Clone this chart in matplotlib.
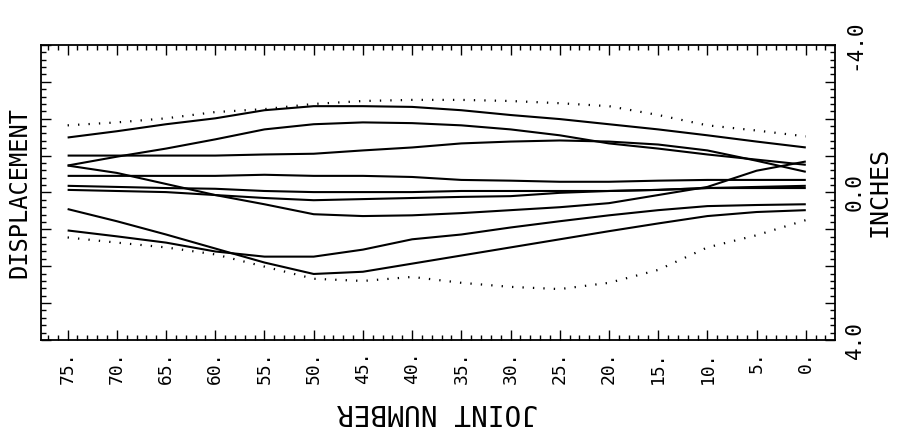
import numpy as np
import matplotlib.pyplot as plt
from matplotlib.ticker import MultipleLocator, FuncFormatter

# joint numbers (x) and displacement in inches (y, positive = down on the plot)
joints = [75, 70, 65, 60, 55, 50, 45, 40, 35, 30, 25, 20, 15, 10, 5, 0]

upper_env = [-1.82, -1.90, -2.01, -2.18, -2.26, -2.40, -2.48, -2.51, -2.51, -2.48, -2.42, -2.34, -2.10, -1.82, -1.68, -1.52]
lower_env = [1.22, 1.36, 1.49, 1.68, 2.01, 2.34, 2.40, 2.29, 2.45, 2.56, 2.62, 2.45, 2.10, 1.49, 1.16, 0.75]

line_a = [-1.49, -1.66, -1.85, -2.01, -2.23, -2.34, -2.34, -2.32, -2.23, -2.10, -1.99, -1.85, -1.71, -1.55, -1.38, -1.22]
line_b = [-0.73, -0.97, -1.19, -1.44, -1.71, -1.85, -1.90, -1.88, -1.82, -1.71, -1.55, -1.33, -1.19, -1.03, -0.89, -0.75]
line_c = [-1.00, -1.00, -1.00, -1.00, -1.03, -1.05, -1.14, -1.22, -1.33, -1.38, -1.41, -1.38, -1.30, -1.14, -0.86, -0.56]
line_d = [-0.73, -0.53, -0.23, 0.07, 0.32, 0.59, 0.64, 0.62, 0.56, 0.48, 0.40, 0.29, 0.07, -0.15, -0.59, -0.84]
line_e = [-0.45, -0.45, -0.45, -0.45, -0.48, -0.45, -0.45, -0.42, -0.34, -0.32, -0.29, -0.29, -0.32, -0.34, -0.34, -0.34]
line_f = [-0.18, -0.15, -0.12, -0.10, -0.04, -0.01, -0.01, -0.01, -0.04, -0.04, -0.04, -0.04, -0.07, -0.12, -0.12, -0.12]
line_g = [-0.07, -0.04, -0.01, 0.07, 0.15, 0.21, 0.18, 0.15, 0.12, 0.10, 0.01, -0.04, -0.07, -0.12, -0.15, -0.18]
line_h = [0.45, 0.78, 1.14, 1.52, 1.90, 2.21, 2.15, 1.93, 1.71, 1.49, 1.27, 1.05, 0.84, 0.64, 0.53, 0.48]
line_i = [1.03, 1.19, 1.36, 1.60, 1.74, 1.74, 1.55, 1.27, 1.14, 0.95, 0.78, 0.62, 0.48, 0.37, 0.34, 0.32]

solid_lines = [line_a, line_b, line_c, line_d, line_e, line_f, line_g, line_h, line_i]

ytick_vals = [-4.0, 0.0, 4.0]

mono = 'DejaVu Sans Mono'

fig = plt.figure(figsize=(9, 4.45), dpi=100)
ax = fig.add_axes([0.0456, 0.236, 0.882, 0.663])

for ys in solid_lines:
    ax.plot(joints, ys, color='black', linewidth=1.5, solid_capstyle='butt')

# envelopes drawn as dotted lines (one dot per joint roughly)
for ys in [upper_env, lower_env]:
    ax.plot(joints, ys, color='black', linewidth=1.6, linestyle=(0, (0.6, 4.1)))

ax.set_xlim(77.7, -2.95)
ax.set_ylim(4, -4)

ax.xaxis.set_major_locator(MultipleLocator(5))
ax.xaxis.set_minor_locator(MultipleLocator(1))
ax.yaxis.set_major_locator(MultipleLocator(1))
ax.yaxis.set_minor_locator(MultipleLocator(0.2))

ax.xaxis.set_major_formatter(FuncFormatter(lambda v, p: f'{v:.0f}.' if v >= 0 else ''))
ax.yaxis.set_major_formatter(FuncFormatter(lambda v, p: f'{v:.1f}' if round(v, 1) in ytick_vals else ''))

ax.tick_params(which='both', direction='in', top=True, right=True, left=True, bottom=True,
               labelleft=False, labelright=True, color='black', width=1.0)
ax.tick_params(which='major', length=7)
ax.tick_params(which='minor', length=3.5)
ax.tick_params(axis='x', which='major', pad=8, labelsize=13, labelrotation=90)
ax.tick_params(axis='y', which='major', pad=7, labelsize=15, labelrotation=90)

for lab in ax.get_xticklabels():
    lab.set_family(mono)
    lab.set_verticalalignment('top')
for lab in ax.get_yticklabels():
    lab.set_family(mono)
    lab.set_verticalalignment('center')

for sp in ax.spines.values():
    sp.set_linewidth(1.3)
    sp.set_color('black')

ax.set_xlabel('JOINT NUMBER', fontsize=20, family=mono, rotation=180, labelpad=10)
ax.yaxis.set_label_position('right')
ax.set_ylabel('INCHES', fontsize=18, family=mono, rotation=90, labelpad=2)
ax.text(-0.027, 0.5, 'DISPLACEMENT', transform=ax.transAxes, rotation=90,
        ha='center', va='center', fontsize=17, family=mono)

fig.savefig('out.png', dpi=100)
